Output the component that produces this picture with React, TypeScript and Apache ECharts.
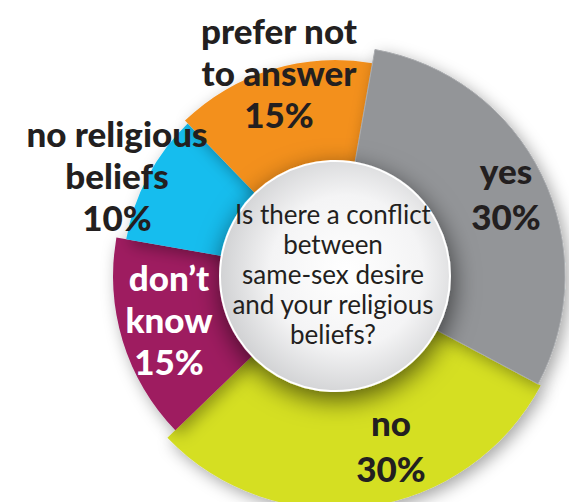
import React, { useEffect, useRef } from "react";
import * as echarts from "echarts";

// ---- data ----
const categories: string[] = ["yes", "no", "don’t know", "no religious beliefs", "prefer not to answer"];
const values: number[] = [30, 30, 15, 10, 15];
const labelLines: string[][] = [["yes"], ["no"], ["don’t", "know"], ["no religious", "beliefs"], ["prefer not", "to answer"]];
const questionLines: string[] = ["Is there a conflict", "between", "same-sex desire", "and your religious", "beliefs?"];

// ---- styles ----
const sliceColors = ["#939598", "#d5df23", "#9e1d60", "#18bdee", "#f3901f"];
const outerRadii = [230, 233, 222, 212, 216];
const labelColors = ["#231f20", "#231f20", "#ffffff", "#231f20", "#231f20"];
const labelPos: number[][] = [[498, 185], [383, 437], [161, 311], [109, 167], [271, 64]];
const labelLineHeights = [46, 46, 42, 42, 42];
const CX = 327;
const CY = 268;
const CIRCLE_R = 115;

export default function App() {
  const ref = useRef<HTMLDivElement>(null);
  useEffect(() => {
    if (!ref.current) return;
    const chart = echarts.init(ref.current, null, { renderer: "svg" });
    const series = categories.map((_, si) => ({
      type: "pie",
      name: categories[si],
      center: [CX, CY],
      radius: [90, outerRadii[si]],
      startAngle: 80,
      clockwise: true,
      animation: false,
      silent: true,
      z: si === 0 ? 3 : 2,
      label: { show: false },
      labelLine: { show: false },
      emphasis: { disabled: true },
      data: categories.map((c, i) => ({
        name: c,
        value: values[i],
        itemStyle:
          i === si
            ? {
                color: sliceColors[i],
                borderWidth: i === 0 ? 1 : 0,
                borderColor: "#a9abae",
                shadowBlur: 16,
                shadowColor: "rgba(0,0,0,0.35)",
                shadowOffsetX: 4,
                shadowOffsetY: 5,
              }
            : { color: "transparent", borderWidth: 0 },
      })),
    }));

    const graphics: any[] = [
      {
        type: "circle",
        z: 10,
        shape: { cx: CX, cy: CY, r: CIRCLE_R },
        style: {
          fill: new echarts.graphic.RadialGradient(0.55, 0.48, 0.6, [
            { offset: 0, color: "#ffffff" },
            { offset: 0.55, color: "#f4f4f5" },
            { offset: 1, color: "#c9cacc" },
          ]),
          stroke: "#ffffff",
          lineWidth: 2,
          shadowBlur: 26,
          shadowColor: "rgba(0,0,0,0.6)",
          shadowOffsetX: 2,
          shadowOffsetY: 8,
        },
      },
      {
        type: "text",
        z: 11,
        x: CX - 2,
        y: CY - 2,
        style: {
          text: questionLines.join("\n"),
          align: "center",
          verticalAlign: "middle",
          fontFamily: "Lato",
          fontSize: 26,
          lineHeight: 30,
          fill: "#231f20",
        },
      },
    ];
    categories.forEach((_, i) => {
      graphics.push({
        type: "text",
        z: 12,
        x: labelPos[i][0],
        y: labelPos[i][1],
        style: {
          text: [...labelLines[i], `${values[i]}%`].join("\n"),
          align: "center",
          verticalAlign: "middle",
          fontFamily: "Lato",
          fontWeight: 900,
          fontSize: 35,
          lineHeight: labelLineHeights[i],
          fill: labelColors[i],
        },
      });
    });

    chart.setOption({
      animation: false,
      backgroundColor: "#ffffff",
      tooltip: { show: false },
      series,
      graphic: graphics,
    });
    return () => chart.dispose();
  }, []);
  return (
    <div
      ref={ref}
      style={{ position: "fixed", left: 0, top: 0, width: 577, height: 502 }}
    />
  );
}
